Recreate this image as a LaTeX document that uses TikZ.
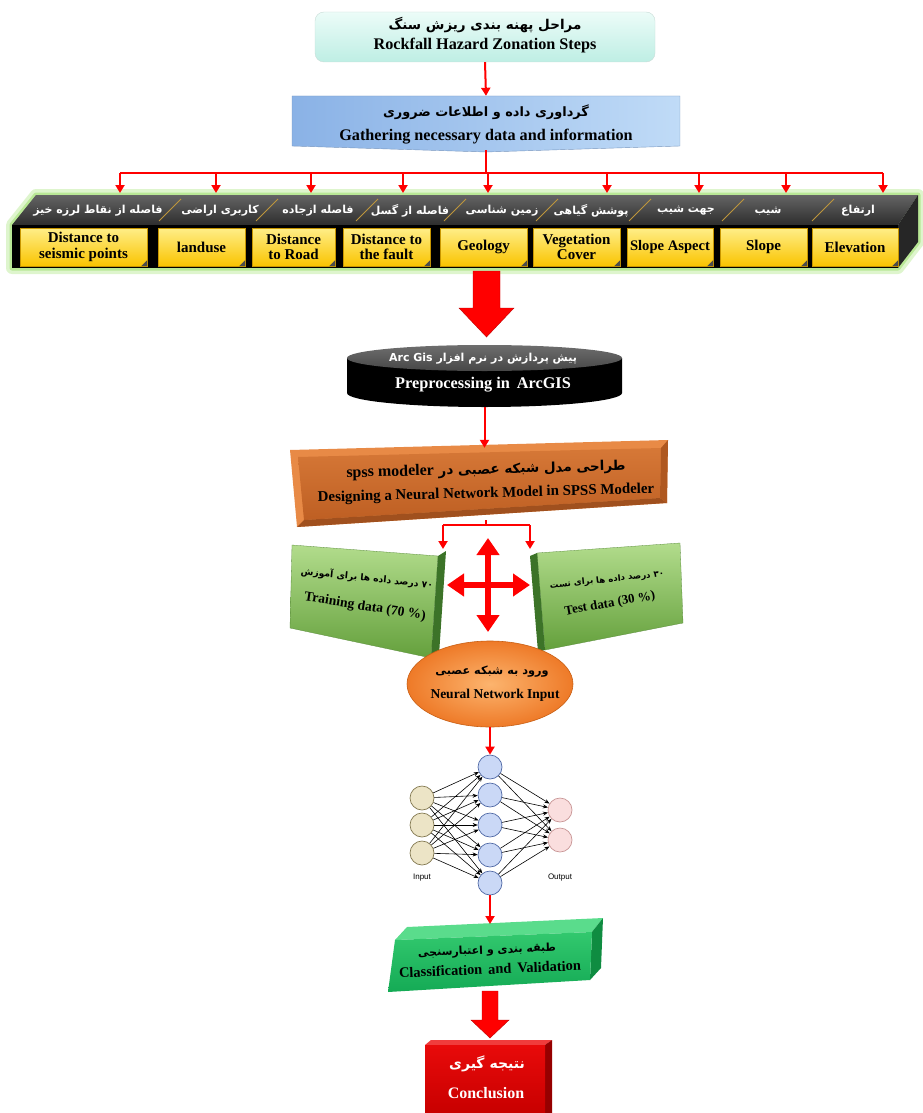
\documentclass[tikz,border=0pt]{standalone}
\usepackage{fontspec}
\setmainfont{Liberation Serif}
\newfontfamily\fafont[Script=Arabic]{DejaVu Sans}
\newfontfamily\nnsans{Liberation Sans}
\TeXXeTstate=1
\usetikzlibrary{arrows.meta,shapes.geometric,calc}
\newcommand\fatxt[1]{{\fafont\bfseries\beginR #1\endR}}
\definecolor{arrred}{HTML}{FF0000}
\definecolor{arrdark}{HTML}{BE0000}
\definecolor{titletop}{HTML}{ECFCF8}
\definecolor{titlebot}{HTML}{BEEEE4}
\definecolor{titledraw}{HTML}{C8DCD7}
\definecolor{gleft}{HTML}{8AB2E6}
\definecolor{gright}{HTML}{C0DBF7}
\definecolor{gdraw}{HTML}{7896BE}
\definecolor{glow1}{HTML}{DEF5CD}
\definecolor{glow2}{HTML}{B9E896}
\definecolor{bandtop}{HTML}{646464}
\definecolor{bandbot}{HTML}{2D2D2D}
\definecolor{sepcol}{HTML}{BE963C}
\definecolor{ybot}{HTML}{FAC400}
\definecolor{ydraw}{HTML}{C89600}
\definecolor{ytop}{HTML}{FFEE88}
\definecolor{spssout}{HTML}{E88A46}
\definecolor{spsstop}{HTML}{D67837}
\definecolor{spssbot}{HTML}{BE5F23}
\definecolor{spssdark}{HTML}{A0501E}
\definecolor{spssside}{HTML}{AF5820}
\definecolor{grtop}{HTML}{B2DC8C}
\definecolor{grbot}{HTML}{64A03C}
\definecolor{grdraw}{HTML}{5A8C3C}
\definecolor{grside}{HTML}{3C7328}
\definecolor{elin}{HTML}{FCB46E}
\definecolor{elout}{HTML}{EE7A28}
\definecolor{eldraw}{HTML}{C85F14}
\definecolor{nin}{HTML}{ECE4C6}
\definecolor{nind}{HTML}{827850}
\definecolor{nhid}{HTML}{CAD8F6}
\definecolor{nhidd}{HTML}{5069A5}
\definecolor{nout}{HTML}{FADEDE}
\definecolor{noutd}{HTML}{C89696}
\definecolor{clstopc}{HTML}{5ADC8C}
\definecolor{clsside}{HTML}{0F8C41}
\definecolor{clsa}{HTML}{32C86E}
\definecolor{clsb}{HTML}{14AA55}
\definecolor{conctop}{HTML}{F03C3C}
\definecolor{concside}{HTML}{960000}
\definecolor{conca}{HTML}{E80A0A}
\definecolor{concb}{HTML}{C80000}
\definecolor{cyltop}{HTML}{6E6E6E}
\definecolor{cylbot}{HTML}{464646}
\begin{document}
\begin{tikzpicture}[x=1pt,y=-1pt,
  redcon/.style={draw=arrred, line width=2pt},
  redarr/.style={redcon, -{Triangle[length=8pt,width=9pt]}},
  en/.style={font=\fontsize{16.2}{18}\selectfont\bfseries, inner sep=0pt},
  fa/.style={font=\fontsize{13.5}{15}\selectfont, inner sep=0pt},
  bandfa/.style={font=\fontsize{11}{13}\selectfont, text=white, inner sep=0pt},
  ybox/.style={minimum height=38pt, inner sep=0pt, top color=ytop, bottom color=ybot, draw=ydraw, line width=0.4pt, font=\fontsize{15}{15.5}\selectfont\bfseries, align=center},
  sep/.style={draw=sepcol, line width=0.8pt},
  neuron/.style={circle, minimum size=24pt, inner sep=0pt, line width=0.7pt},
  nnedge/.style={draw=black, line width=0.6pt, -{Stealth[length=5pt,width=4pt]}},
  blockarrow/.style={fill=arrred, draw=arrdark, line width=0.4pt}
]
\useasboundingbox (0,0) rectangle (922,1113);

% ---------- title ----------
\node[rounded corners=9pt, minimum width=340pt, minimum height=50pt, top color=titletop, bottom color=titlebot, draw=titledraw] (t1) at (485,37) {};
\node[fa] (t1fa) at (485,25) {\fatxt{مراحل پهنه بندی ریزش سنگ}};
\node[en] (t1en) at (485,46) {Rockfall Hazard Zonation Steps};

% ---------- gather ----------
\shade[left color=gleft, right color=gright, draw=gdraw, line width=0.4pt]
  (292,96) -- (680,96) -- (680,146) -- (486,152) -- (292,146) -- cycle;
\node[minimum width=388pt, minimum height=54pt] (g) at (486,123) {};
\node[fa, font=\fontsize{12.9}{15}\selectfont] (gfa) at (486,112) {\fatxt{گرداوری داده و اطلاعات ضروری}};
\node[en] (gen) at (486,137) {Gathering necessary data and information};
\draw[redarr] (t1.south) -- (g.north);

% ---------- band ----------
\draw[line width=12pt, draw=glow1, line join=round, fill=glow1]
  (12,225) -- (36,195) -- (918,195) -- (918,242) -- (898,268) -- (12,268) -- cycle;
\draw[line width=5pt, draw=glow2, line join=round]
  (12,225) -- (36,195) -- (918,195) -- (918,242) -- (898,268) -- (12,268) -- cycle;
\shade[top color=bandtop, bottom color=bandbot]
  (12,225) -- (36,195) -- (918,195) -- (898,225) -- cycle;
\fill[black] (12,225) rectangle (898,268);
\fill[black!85] (898,225) -- (918,195) -- (918,242) -- (898,268) -- cycle;
\foreach \sx in {170,267,367,455,547,640,733,823}
  \draw[sep] (\sx-11,221) -- (\sx+11,199);

\node[bandfa] (l1) at (98,211) {\fatxt{فاصله از نقاط لرزه خیز}};
\node[bandfa] (l2) at (220,211) {\fatxt{کاربری اراضی}};
\node[bandfa] (l3) at (318,211) {\fatxt{فاصله ازجاده}};
\node[bandfa] (l4) at (410,211) {\fatxt{فاصله از گسل}};
\node[bandfa] (l5) at (502,211) {\fatxt{زمین شناسی}};
\node[bandfa] (l6) at (591,211) {\fatxt{پوشش گیاهی}};
\node[bandfa] (l7) at (686,211) {\fatxt{جهت شیب}};
\node[bandfa] (l8) at (768,211) {\fatxt{شیب}};
\node[bandfa] (l9) at (858,211) {\fatxt{ارتفاع}};

\node[ybox, minimum width=127pt] (y1) at (83.5,247) {Distance to\\ seismic points};
\node[ybox, minimum width=87pt] (y2) at (201.5,247) {landuse};
\node[ybox, minimum width=83pt] (y3) at (293.5,247) {Distance\\ to Road};
\node[ybox, minimum width=87pt] (y4) at (386.5,247) {Distance to\\ the fault};
\node[ybox, minimum width=87pt] (y5) at (483.5,247) {Geology};
\node[ybox, minimum width=87pt] (y6) at (576.5,247) {Vegetation\\ Cover};
\node[ybox, minimum width=86pt, font=\fontsize{14.6}{15}\selectfont\bfseries] (y7) at (670,247) {Slope Aspect};
\node[ybox, minimum width=87pt] (y8) at (763.5,247) {Slope};
\node[ybox, minimum width=86pt] (y9) at (855,247) {Elevation};
\foreach \i in {1,...,9}
  \fill[black!70] (y\i.south east) -- ++(-6,0) -- ++(6,-6) -- cycle;

% bus and arrows
\coordinate (busc) at (486,173);
\coordinate (busl) at (120,173);
\coordinate (busr) at (883,173);
\draw[redcon] (g.south) -- (busc);
\draw[redcon] (busl) -- (busr);
\foreach \i/\ax in {1/120,2/216,3/311,4/403,5/488,6/607,7/699,8/786,9/883}{
  \coordinate (btop\i) at (\ax,173);
  \coordinate (btip\i) at (\ax,193);
  \draw[redarr] (btop\i) -- (btip\i);
}

% ---------- big arrow 1 ----------
\path[blockarrow] (473,271) -- (500,271) -- (500,308) -- (514,308) -- (486.5,337) -- (459,308) -- (473,308) -- cycle;

% ---------- cylinder ----------
\fill[black] (347,358) -- (347,393) arc[start angle=180, end angle=0, x radius=137.5, y radius=14] -- (622,358) -- cycle;
\shade[top color=cyltop, bottom color=cylbot] (484.5,358) ellipse [x radius=137.5, y radius=13];
\node[minimum width=275pt, minimum height=62pt] (cyl) at (484.5,376) {};
\node[font=\fontsize{11}{12}\selectfont, text=white, inner sep=0pt] (cylfa) at (483,359) {\fatxt{پیش پردازش در نرم افزار \beginL\textbf{Arc Gis}\endL}};
\node[en, font=\fontsize{16.3}{18}\selectfont\bfseries, text=white] (cylen) at (483,385) {Preprocessing in\, ArcGIS};

% ---------- SPSS box ----------
\fill[spssout] (290,450) -- (668,440) -- (667,503) -- (297,527) -- cycle;
\shade[top color=spsstop, bottom color=spssbot] (298,457) -- (661,448) -- (660,498) -- (304,520) -- cycle;
\fill[spssdark] (297,527) -- (304,520) -- (660,498) -- (667,503) -- cycle;
\fill[spssside] (661,448) -- (668,440) -- (667,503) -- (660,498) -- cycle;
\node[minimum width=378pt, minimum height=72pt, rotate=1.5] (spss) at (480,484) {};
\node[fa, rotate=1.5] (spssfa) at (486,470) {\fatxt{طراحی مدل شبکه عصبی در \beginL{\rmfamily\bfseries\fontsize{16}{17}\selectfont spss modeler}\endL}};
\node[en, font=\fontsize{14.9}{16}\selectfont\bfseries, rotate=1.5] (spssen) at (486,494) {Designing a Neural Network Model in SPSS Modeler};

\draw[redarr] (cyl.south) -- (cyl.south |- spss.north);

% split
\coordinate (split) at (486,525);
\coordinate (splitl) at (443,525);
\coordinate (splitr) at (530,525);
\coordinate (tipl) at (443,549);
\coordinate (tipr) at (530,549);
\draw[redcon] (split |- spss.south) -- (split);
\draw[redcon] (splitl) -- (splitr);
\draw[redarr] (splitl) -- (tipl);
\draw[redarr] (splitr) -- (tipr);

% ---------- training / test ----------
\shade[top color=grtop, bottom color=grbot, draw=grdraw, line width=0.3pt]
  (292,545) -- (438,556) -- (431,658) -- (290,628) -- cycle;
\fill[grside] (438,556) -- (446,551) -- (439,655) -- (431,658) -- cycle;
\node[minimum width=150pt, minimum height=90pt] (train) at (364,598) {};
\node[font=\fontsize{9.2}{11}\selectfont, inner sep=0pt, rotate=-6] (trfa) at (367,578) {\fatxt{۷۰ درصد داده ها برای آموزش}};
\node[en, font=\fontsize{13.6}{15}\selectfont\bfseries, rotate=-9] (tren) at (365,607) {Training data (70 \%)};

\shade[top color=grtop, bottom color=grbot, draw=grdraw, line width=0.3pt]
  (537,553) -- (680,543) -- (683,623) -- (545,650) -- cycle;
\fill[grside] (530,556) -- (537,553) -- (545,650) -- (538,652) -- cycle;
\node[minimum width=145pt, minimum height=85pt] (test) at (609,595) {};
\node[font=\fontsize{8.6}{10}\selectfont, inner sep=0pt, rotate=6] (tefa) at (607,580) {\fatxt{۳۰ درصد داده ها برای تست}};
\node[en, font=\fontsize{13}{15}\selectfont\bfseries, rotate=10] (teen) at (610,604) {Test data (30 \%)};

% four-way arrow
\coordinate (xc) at (488,585);
\coordinate (xl) at (447,585);
\coordinate (xr) at (530,585);
\coordinate (xt) at (488,538);
\coordinate (xb) at (488,632);
\draw[draw=arrred, line width=6pt, {Triangle[length=17pt,width=22pt]}-{Triangle[length=17pt,width=22pt]}] (xl) -- (xr);
\draw[draw=arrred, line width=6pt, {Triangle[length=17pt,width=22pt]}-{Triangle[length=17pt,width=22pt]}] (xt) -- (xb);

% ---------- ellipse ----------
\node[ellipse, minimum width=166pt, minimum height=86pt, inner color=elin, outer color=elout, draw=eldraw, line width=0.6pt] (nni) at (490,684) {};
\node[font=\fontsize{11.3}{13}\selectfont, inner sep=0pt] (nnifa) at (492,672) {\fatxt{ورود به شبکه عصبی}};
\node[en, font=\fontsize{13.5}{15}\selectfont\bfseries] (nnien) at (495,695) {Neural Network Input};

% ---------- neural net ----------
\foreach \i/\yy in {1/798,2/825,3/853}
  \node[neuron, fill=nin, draw=nind] (i\i) at (422,\yy) {};
\foreach \i/\yy in {1/767,2/795,3/825,4/855,5/883}
  \node[neuron, fill=nhid, draw=nhidd] (h\i) at (490,\yy) {};
\foreach \i/\yy in {1/810,2/840}
  \node[neuron, fill=nout, draw=noutd] (o\i) at (560,\yy) {};
\foreach \a in {1,2,3}
  \foreach \b in {1,...,5}
    \draw[nnedge] (i\a) -- (h\b);
\foreach \a in {1,...,5}
  \foreach \b in {1,2}
    \draw[nnedge] (h\a) -- (o\b);
\node[font=\nnsans\fontsize{8}{9}\selectfont] (inlab) at (422,878) {Input};
\node[font=\nnsans\fontsize{8}{9}\selectfont] (outlab) at (560,878) {Output};

\draw[redarr] (nni.south) -- (h1.north);

% ---------- classification ----------
\fill[clstopc] (395,940) -- (407,927) -- (603,918) -- (592,932) -- cycle;
\fill[clsside] (592,932) -- (603,918) -- (601,968) -- (590,980) -- cycle;
\shade[top color=clsa, bottom color=clsb] (395,940) -- (592,932) -- (590,980) -- (388,992) -- cycle;
\node[minimum width=200pt, minimum height=60pt, rotate=2.3] (cls) at (495,956) {};
\coordinate (clstop) at (490,924);
\draw[redarr] (h5.south) -- (clstop);
\node[font=\fontsize{11}{13}\selectfont, inner sep=0pt, rotate=2.3] (clsfa) at (487,951) {\fatxt{طبقه بندی و اعتبارسنجی}};
\node[en, font=\fontsize{14.4}{16}\selectfont\bfseries, rotate=2.3] (clsen) at (490,969) {Classification\, and\, Validation};

% ---------- big arrow 2 ----------
\path[blockarrow] (482,991) -- (498,991) -- (498,1020) -- (509,1020) -- (490,1038) -- (471,1020) -- (482,1020) -- cycle;

% ---------- conclusion ----------
\fill[conctop] (425,1045) -- (431,1040) -- (552,1040) -- (545,1045) -- cycle;
\fill[concside] (545,1045) -- (552,1040) -- (552,1113) -- (545,1113) -- cycle;
\shade[top color=conca, bottom color=concb] (425,1045) rectangle (545,1113);
\node[minimum width=127pt, minimum height=73pt] (conc) at (488,1077) {};
\node[font=\fontsize{14}{15}\selectfont, text=white, inner sep=0pt] (concfa) at (487,1064) {\fatxt{نتیجه گیری}};
\node[en, font=\fontsize{16}{17}\selectfont\bfseries, text=white] (concen) at (486,1093) {Conclusion};
\end{tikzpicture}
\end{document}
